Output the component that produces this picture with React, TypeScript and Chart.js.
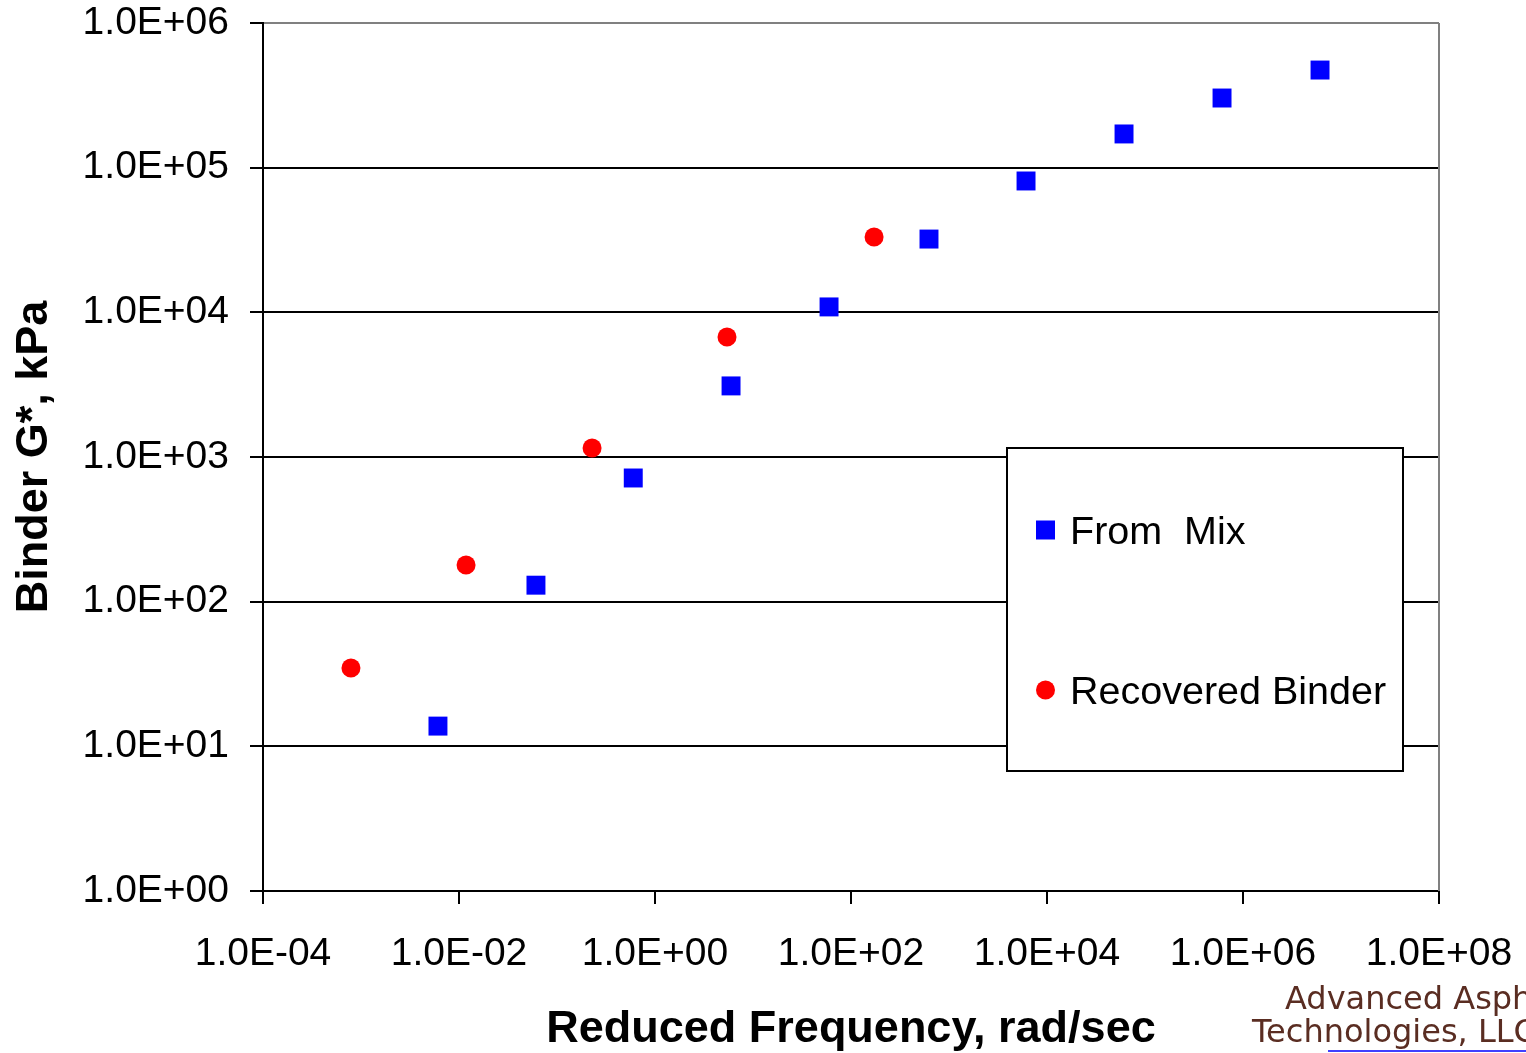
import React, { useEffect, useRef } from "react";
import { Chart, registerables } from "chart.js";

Chart.register(...registerables);

// ---- Data ----
const fromMixFreq = [0.0061, 0.061, 0.6, 5.97, 59.7, 625, 6110, 61100, 611000, 6110000];
const fromMixG = [13.8, 130, 716, 3100, 10900, 32100, 80900, 171000, 303000, 473000];

const recoveredFreq = [0.00079, 0.0118, 0.228, 5.43, 172];
const recoveredG = [34.8, 179, 1153, 6750, 33200];

const seriesLabels = ["From  Mix", "Recovered Binder"];

const xTickValues = [1e-4, 1e-2, 1, 1e2, 1e4, 1e6, 1e8];
const xTickLabels = ["1.0E-04", "1.0E-02", "1.0E+00", "1.0E+02", "1.0E+04", "1.0E+06", "1.0E+08"];
const yTickValues = [1, 10, 100, 1e3, 1e4, 1e5, 1e6];
const yTickLabels = ["1.0E+00", "1.0E+01", "1.0E+02", "1.0E+03", "1.0E+04", "1.0E+05", "1.0E+06"];

const xTitle = "Reduced Frequency, rad/sec";
const yTitle = "Binder G*, kPa";
const watermarkLines = ["Advanced Asphalt", "Technologies, LLC"];

const FONT = '"Liberation Sans", Arial, sans-serif';

const frameAndLegend = {
  id: "frameAndLegend",
  afterDraw(chart: any) {
    const ctx = chart.ctx;
    const a = chart.chartArea;
    ctx.save();
    // gray right border
    ctx.strokeStyle = "#808080";
    ctx.lineWidth = 2;
    ctx.beginPath();
    ctx.moveTo(a.right, a.top);
    ctx.lineTo(a.right, a.bottom);
    ctx.stroke();

    // legend box
    const L = 1007, T = 448, R = 1403, B = 771;
    ctx.fillStyle = "#ffffff";
    ctx.fillRect(L, T, R - L, B - T);
    ctx.strokeStyle = "#000000";
    ctx.lineWidth = 2;
    ctx.strokeRect(L, T, R - L, B - T);
    const rows = [530, 690];
    chart.data.datasets.forEach((ds: any, i: number) => {
      const y = rows[i];
      ctx.fillStyle = ds.backgroundColor;
      if (ds.pointStyle === "rect") {
        ctx.fillRect(1036, y - 9.5, 19, 19);
      } else {
        ctx.beginPath();
        ctx.arc(1045.5, y, 9.5, 0, Math.PI * 2);
        ctx.fill();
      }
      ctx.fillStyle = "#000000";
      ctx.font = `39.5px ${FONT}`;
      ctx.textBaseline = "middle";
      ctx.textAlign = "left";
      ctx.fillText(ds.label, 1070, y + 3);
    });

    // watermark
    ctx.fillStyle = "#5a2d22";
    ctx.font = '32px "DejaVu Sans", sans-serif';
    ctx.textBaseline = "alphabetic";
    ctx.fillText(watermarkLines[0], 1285, 1009);
    ctx.fillText(watermarkLines[1], 1252, 1042);
    ctx.strokeStyle = "#0000ff";
    ctx.lineWidth = 1.5;
    ctx.beginPath();
    ctx.moveTo(1328, 1051);
    ctx.lineTo(1526, 1051);
    ctx.stroke();
    ctx.restore();
  },
};

export default function App() {
  const canvasRef = useRef<HTMLCanvasElement | null>(null);

  useEffect(() => {
    if (!canvasRef.current) return;
    const chart = new Chart(canvasRef.current, {
      type: "scatter",
      data: {
        datasets: [
          {
            label: seriesLabels[0],
            data: fromMixFreq.map((x, i) => ({ x, y: fromMixG[i] })),
            backgroundColor: "#0000ff",
            borderColor: "#0000ff",
            borderWidth: 0,
            pointStyle: "rect",
            pointRadius: 13.4,
            pointHoverRadius: 13.4,
          },
          {
            label: seriesLabels[1],
            data: recoveredFreq.map((x, i) => ({ x, y: recoveredG[i] })),
            backgroundColor: "#ff0000",
            borderColor: "#ff0000",
            borderWidth: 0,
            pointStyle: "circle",
            pointRadius: 9.5,
            pointHoverRadius: 9.5,
          },
        ],
      },
      options: {
        responsive: false,
        animation: false,
        events: [],
        layout: { padding: { top: 23, right: 87, bottom: 0, left: 0 } },
        plugins: {
          legend: { display: false },
          tooltip: { enabled: false },
        },
        scales: {
          x: {
            type: "logarithmic",
            min: 1e-4,
            max: 1e8,
            afterBuildTicks: (scale: any) => {
              scale.ticks = xTickValues.map((v) => ({ value: v }));
            },
            afterFit: (scale: any) => {
              scale.height = 162;
              scale.paddingLeft = 0;
              scale.paddingRight = 0;
            },
            ticks: {
              autoSkip: false,
              maxRotation: 0,
              padding: 27,
              color: "#000",
              font: { family: FONT, size: 39 },
              callback: (_v: any, i: number) => xTickLabels[i],
            },
            grid: {
              drawOnChartArea: false,
              drawTicks: true,
              tickLength: 13,
              tickColor: "#000",
              lineWidth: 2,
              color: "#000",
            },
            border: { display: true, color: "#000", width: 2 },
            title: {
              display: true,
              text: xTitle,
              color: "#000",
              font: { family: FONT, size: 45, weight: "bold" },
              padding: { top: 0, bottom: -4 },
            },
          },
          y: {
            type: "logarithmic",
            min: 1,
            max: 1e6,
            afterBuildTicks: (scale: any) => {
              scale.ticks = yTickValues.map((v) => ({ value: v }));
            },
            afterFit: (scale: any) => {
              scale.width = 263;
              scale.paddingTop = 0;
              scale.paddingBottom = 0;
            },
            ticks: {
              autoSkip: false,
              padding: 21,
              color: "#000",
              font: { family: FONT, size: 39 },
              callback: (_v: any, i: number) => yTickLabels[i],
            },
            grid: {
              drawOnChartArea: true,
              drawTicks: true,
              tickLength: 13,
              tickColor: "#000",
              lineWidth: 2,
              color: (ctx: any) =>
                ctx.tick && ctx.tick.value === yTickValues[yTickValues.length - 1] ? "#808080" : "#000",
            },
            border: { display: true, color: "#000", width: 2 },
            title: {
              display: true,
              text: yTitle,
              color: "#000",
              font: { family: FONT, size: 45, weight: "bold" },
              padding: { top: 8, bottom: 0 },
            },
          },
        },
      },
      plugins: [frameAndLegend],
    } as any);
    return () => chart.destroy();
  }, []);

  return (
    <canvas
      ref={canvasRef}
      width={1526}
      height={1053}
      style={{ position: "absolute", left: 0, top: 0, width: 1526, height: 1053 }}
    />
  );
}
